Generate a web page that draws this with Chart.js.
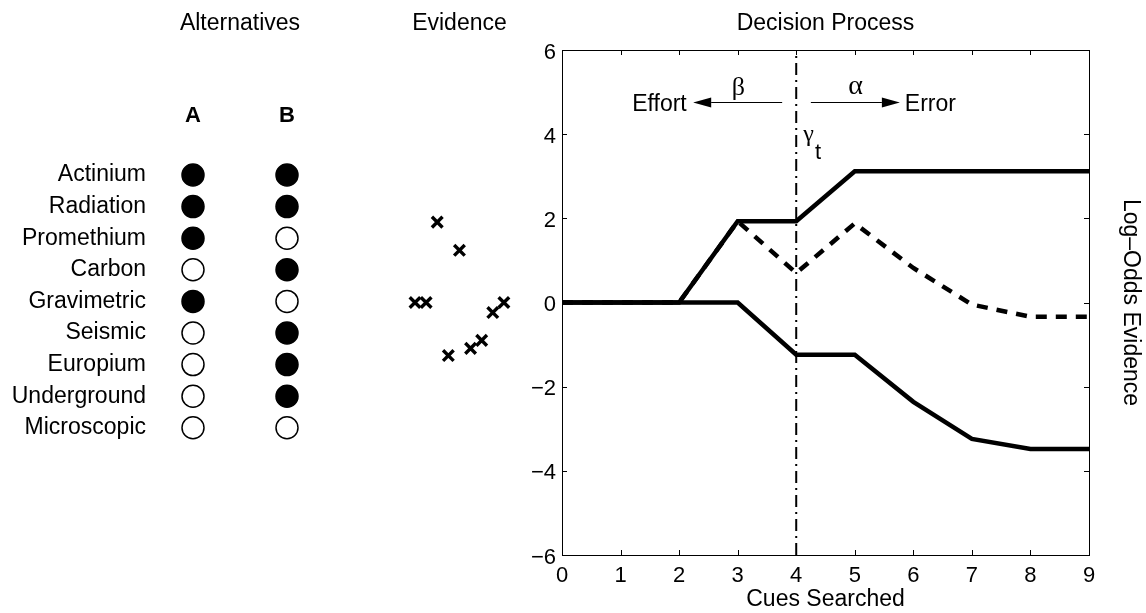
<!DOCTYPE html>
<html>
<head>
<meta charset="utf-8">
<title>Decision Process</title>
<script src="https://cdn.jsdelivr.net/npm/chart.js@4.4.1/dist/chart.umd.min.js"></script>
<style>
  html, body { margin: 0; padding: 0; background: #fff; }
  #wrap { position: relative; width: 1146px; height: 613px; overflow: hidden; }
  #wrap canvas { position: absolute; top: 0; }
</style>
</head>
<body>
<div id="wrap">
  <canvas id="alt-chart" width="380" height="613" style="left:0px"></canvas>
  <canvas id="ev-chart" width="160" height="613" style="left:380px"></canvas>
  <canvas id="main-chart" width="646" height="613" style="left:500px"></canvas>
</div>
<script>
// Cues and the two alternatives (1 = cue present, 0 = absent)
const cueNames = ['Actinium', 'Radiation', 'Promethium', 'Carbon', 'Gravimetric',
                  'Seismic', 'Europium', 'Underground', 'Microscopic'];
const altLabels = ['A', 'B'];
const altA = [1, 1, 1, 0, 1, 0, 0, 0, 0];
const altB = [1, 1, 0, 1, 0, 1, 1, 1, 0];

// Evidence of each cue, in search order
const cueEvidence = [0, 0, 1.91, -1.26, 1.24, -1.09, -0.9, -0.24, 0];

// Decision process
const cuesSearched = [0, 1, 2, 3, 4, 5, 6, 7, 8, 9];
const evidenceUpper = [0, 0, 0, 1.93, 1.93, 3.12, 3.12, 3.12, 3.12, 3.12];
const evidenceLower = [0, 0, 0, 0, -1.24, -1.24, -2.36, -3.24, -3.48, -3.48];
const evidenceNet = [0, 0, 0, 1.93, 0.70, 1.88, 0.82, -0.05, -0.34, -0.34];
const stopCue = 4;

// Tick labels
const xTicks = [0, 1, 2, 3, 4, 5, 6, 7, 8, 9];
const yTicks = [-6, -4, -2, 0, 2, 4, 6];

const SANS = '"Liberation Sans", Arial, Helvetica, sans-serif';
const SERIF = '"Liberation Serif", "Times New Roman", serif';
Chart.defaults.font.family = SANS;
Chart.defaults.color = '#000';

// Titre commun aux trois panneaux, même hauteur de boîte (50 px)
function panelTitle(text) {
    return {
        display: true,
        text: text,
        fullSize: false,
        font: { size: 23, weight: 'normal' },
        padding: { top: 10, bottom: 12.4 }
    };
}

const noGrid = { display: false, drawTicks: false };
const noBorder = { display: false };
const basePlugins = { legend: { display: false }, tooltip: { enabled: false } };

// Cadre et graduations intérieures (style MATLAB)
const axesBoxPlugin = {
    id: 'axesBox',
    afterDatasetsDraw(chart) {
        const { ctx, chartArea: a, scales } = chart;
        const len = 5;
        ctx.save();
        ctx.strokeStyle = '#000';
        ctx.lineWidth = 1;
        ctx.setLineDash([]);
        ctx.strokeRect(Math.round(a.left) + 0.5, Math.round(a.top) + 0.5,
                       Math.round(a.right - a.left), Math.round(a.bottom - a.top));
        ctx.beginPath();
        xTicks.forEach(v => {
            const px = Math.round(scales.x.getPixelForValue(v)) + 0.5;
            ctx.moveTo(px, a.bottom); ctx.lineTo(px, a.bottom - len);
            ctx.moveTo(px, a.top); ctx.lineTo(px, a.top + len);
        });
        yTicks.forEach(v => {
            const py = Math.round(scales.y.getPixelForValue(v)) + 0.5;
            ctx.moveTo(a.left, py); ctx.lineTo(a.left + len, py);
            ctx.moveTo(a.right, py); ctx.lineTo(a.right - len, py);
        });
        ctx.stroke();
        ctx.restore();
    }
};

// Annotations du panneau principal, en coordonnées des données
const arrowNotes = [
    { from: 3.76, to: 2.24, y: 4.77 },
    { from: 4.25, to: 5.77, y: 4.77 }
];
const textNotes = [
    { text: 'Effort', x: 2.13, y: 4.555, align: 'right', font: '23px ' + SANS },
    { text: 'Error', x: 5.855, y: 4.555, align: 'left', font: '23px ' + SANS },
    { text: '\u03B2', x: 3.01, y: 4.93, align: 'center', font: '26px ' + SERIF },
    { text: '\u03B1', x: 5.015, y: 4.95, align: 'center', font: '28px ' + SERIF },
    { text: '\u03B3', x: 4.12, y: 3.83, align: 'left', font: '24px ' + SERIF },
    { text: 't', x: 4.32, y: 3.40, align: 'left', font: '22px ' + SANS }
];

const annotationPlugin = {
    id: 'notes',
    afterDraw(chart) {
        const { ctx, scales } = chart;
        const sx = scales.x, sy = scales.y;
        ctx.save();
        ctx.fillStyle = '#000';
        ctx.strokeStyle = '#000';
        ctx.lineWidth = 1;
        arrowNotes.forEach(n => {
            const x0 = sx.getPixelForValue(n.from);
            const x1 = sx.getPixelForValue(n.to);
            const y = Math.round(sy.getPixelForValue(n.y)) + 0.5;
            const dir = x1 > x0 ? 1 : -1;
            const head = 18, half = 5;
            ctx.beginPath();
            ctx.moveTo(x0, y);
            ctx.lineTo(x1 - dir * head, y);
            ctx.stroke();
            ctx.beginPath();
            ctx.moveTo(x1, y);
            ctx.lineTo(x1 - dir * head, y - half);
            ctx.lineTo(x1 - dir * head, y + half);
            ctx.closePath();
            ctx.fill();
        });
        ctx.textBaseline = 'alphabetic';
        textNotes.forEach(n => {
            ctx.font = n.font;
            ctx.textAlign = n.align;
            ctx.fillText(n.text, sx.getPixelForValue(n.x), sy.getPixelForValue(n.y));
        });
        ctx.restore();
    }
};

function toPoints(xs, ys) {
    return xs.map((x, i) => ({ x: x, y: ys[i] }));
}

function minusSign(v) {
    return String(v).replace('-', '\u2212');
}

// Panneau "Alternatives"
new Chart(document.getElementById('alt-chart'), {
    type: 'scatter',
    data: {
        datasets: [altA, altB].map((col, c) => ({
            data: col.map((v, i) => ({ x: c + 1, y: i + 1 })),
            backgroundColor: col.map(v => v ? '#000' : '#fff'),
            borderColor: '#000',
            borderWidth: 1.5,
            pointRadius: 11,
            pointHoverRadius: 11
        }))
    },
    options: {
        responsive: false,
        animation: false,
        events: [],
        layout: { padding: { left: 0, right: 46, top: 0, bottom: 169.4 } },
        plugins: { ...basePlugins, title: panelTitle('Alternatives') },
        scales: {
            x: {
                type: 'linear', position: 'top', min: 0.5, max: 2.5,
                grid: noGrid, border: noBorder,
                afterBuildTicks: s => { s.ticks = altLabels.map((l, i) => ({ value: i + 1 })); },
                afterFit: s => { s.height = 109.2; },
                ticks: {
                    autoSkip: false, maxRotation: 0, padding: 30,
                    font: { size: 22, weight: 'bold' },
                    callback: (v, i) => altLabels[i]
                }
            },
            y: {
                type: 'linear', min: 0.5, max: 9.5, reverse: true,
                grid: noGrid, border: noBorder,
                afterBuildTicks: s => { s.ticks = cueNames.map((n, i) => ({ value: i + 1 })); },
                afterFit: s => { s.width = 146; },
                ticks: {
                    autoSkip: false, padding: 0,
                    font: { size: 23 },
                    callback: (v, i) => cueNames[i]
                }
            }
        }
    }
});

// Panneau "Evidence"
new Chart(document.getElementById('ev-chart'), {
    type: 'scatter',
    data: {
        datasets: [{
            data: cueEvidence.map((v, i) => ({ x: i + 1, y: v })),
            pointStyle: 'crossRot',
            pointRadius: 7.5,
            pointHoverRadius: 7.5,
            borderColor: '#000',
            backgroundColor: '#000',
            borderWidth: 3.4
        }]
    },
    options: {
        responsive: false,
        animation: false,
        events: [],
        layout: { padding: { left: 23.9, right: 25, top: 0, bottom: 58 } },
        plugins: { ...basePlugins, title: panelTitle('Evidence') },
        scales: {
            x: { type: 'linear', min: 0, max: 10, display: false },
            y: { type: 'linear', min: -6, max: 6, display: false }
        }
    }
});

// Panneau "Decision Process"
new Chart(document.getElementById('main-chart'), {
    type: 'line',
    data: {
        datasets: [
            {
                data: toPoints(cuesSearched, evidenceUpper),
                borderColor: '#000', borderWidth: 4.5, pointRadius: 0,
                tension: 0, fill: false, order: 0
            },
            {
                data: toPoints(cuesSearched, evidenceLower),
                borderColor: '#000', borderWidth: 4.5, pointRadius: 0,
                tension: 0, fill: false, order: 0
            },
            {
                data: toPoints(cuesSearched, evidenceNet),
                borderColor: '#000', borderWidth: 4.5, borderDash: [11, 9],
                pointRadius: 0, tension: 0, fill: false, order: 1
            },
            {
                data: [{ x: stopCue, y: yTicks[0] }, { x: stopCue, y: yTicks[yTicks.length - 1] }],
                borderColor: '#000', borderWidth: 2, borderDash: [12, 5, 2, 5],
                pointRadius: 0, fill: false, order: 2
            }
        ]
    },
    options: {
        responsive: false,
        animation: false,
        events: [],
        layout: { padding: 0 },
        plugins: { ...basePlugins, title: panelTitle('Decision Process') },
        scales: {
            x: {
                type: 'linear', position: 'bottom', min: 0, max: 9,
                grid: noGrid, border: noBorder,
                afterBuildTicks: s => { s.ticks = xTicks.map(v => ({ value: v })); },
                afterFit: s => { s.height = 58; },
                ticks: { autoSkip: false, maxRotation: 0, padding: 8, font: { size: 22 } },
                title: { display: true, text: 'Cues Searched', font: { size: 23 }, padding: { top: 0, bottom: 0 } }
            },
            y: {
                type: 'linear', position: 'left', min: -6, max: 6,
                grid: noGrid, border: noBorder,
                afterBuildTicks: s => { s.ticks = yTicks.map(v => ({ value: v })); },
                afterFit: s => { s.width = 62; },
                ticks: { autoSkip: false, padding: 6, labelOffset: 2.5, font: { size: 22 }, callback: v => minusSign(v) }
            },
            y2: {
                type: 'linear', position: 'right', min: -6, max: 6,
                grid: noGrid, border: noBorder,
                ticks: { display: false },
                afterFit: s => { s.width = 57; },
                title: { display: true, text: 'Log\u2013Odds Evidence', font: { size: 23 }, padding: { top: 2, bottom: 0 } }
            }
        }
    },
    plugins: [axesBoxPlugin, annotationPlugin]
});
</script>
</body>
</html>
